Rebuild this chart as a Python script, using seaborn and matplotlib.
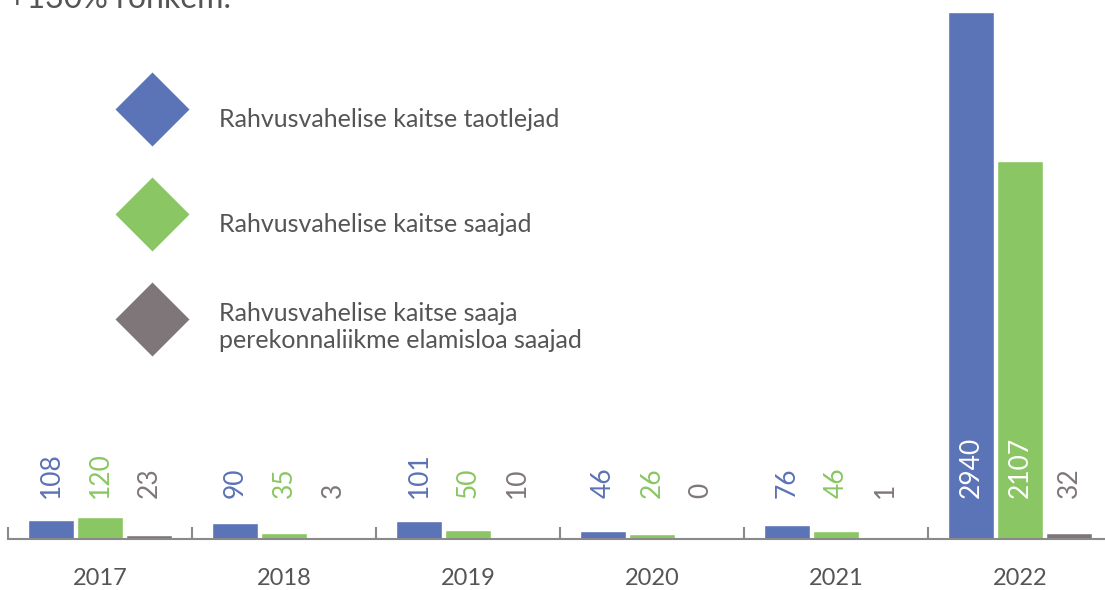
import numpy as np
import pandas as pd
import matplotlib.pyplot as plt
from matplotlib.lines import Line2D
import seaborn as sns

sns.set_style("white")
plt.rcParams['font.family'] = ['Lato', 'DejaVu Sans']

# ---- data ----
years = ["2017", "2018", "2019", "2020", "2021", "2022"]
taotlejad = [108, 90, 101, 46, 76, 2940]
saajad = [120, 35, 50, 26, 46, 2107]
pereliikmed = [23, 3, 10, 0, 1, 32]

series_names = [
    "Rahvusvahelise kaitse taotlejad",
    "Rahvusvahelise kaitse saajad",
    "Rahvusvahelise kaitse saaja\nperekonnaliikme elamisloa saajad",
]
colors = ["#5B73B7", "#8AC663", "#7F767A"]
text_col = "#555555"

df = pd.DataFrame({
    "year": years * 3,
    "value": taotlejad + saajad + pereliikmed,
    "series": [series_names[0]] * 6 + [series_names[1]] * 6 + [series_names[2]] * 6,
})

W, H = 1105, 590
fig = plt.figure(figsize=(W / 100, H / 100), dpi=100)
ax = fig.add_axes([8 / W, (H - 539) / H, 1104 / W, 527 / H])

sns.barplot(data=df, x="year", y="value", hue="series", palette=colors,
            width=0.8, gap=0.08, saturation=1, legend=False, ax=ax)

ax.set_ylim(0, 2940)
ax.set_xlim(-0.5, 5.5)
ax.set_xlabel("")
ax.set_ylabel("")
ax.set_yticks([])
for s in ["left", "right", "top"]:
    ax.spines[s].set_visible(False)
ax.spines["bottom"].set_color("#8a8a8a")
ax.spines["bottom"].set_linewidth(1.5)

# year labels without tick marks, boundary ticks pointing up
ax.tick_params(axis="x", which="major", bottom=True, length=0, pad=21,
               labelsize=17, labelcolor=text_col)
ax.set_xticks(np.arange(-0.5, 6, 1), minor=True)
ax.tick_params(axis="x", which="minor", bottom=True, direction="in",
               length=9, width=1.5, color="#8a8a8a")

# value labels
label_y = 230
for cont, col in zip(ax.containers, colors):
    for bar in cont:
        v = bar.get_height()
        xc = bar.get_x() + bar.get_width() / 2
        c = "white" if v > label_y + 400 else col
        ax.text(xc, label_y, f"{int(round(v))}", rotation=90, ha="center",
                va="bottom", fontsize=19, color=c)

# legend
handles = [Line2D([], [], linestyle="none", marker="D", markersize=38,
                  markerfacecolor=c, markeredgecolor="none") for c in colors]
fig.legend(handles, series_names, loc="upper left",
           bbox_to_anchor=(114 / W, 1 - 92 / H), frameon=False,
           fontsize=18, labelcolor=text_col, handlelength=3, handleheight=3,
           labelspacing=2.0, handletextpad=1.2, borderpad=0, borderaxespad=0)

# cut-off headline at the very top
fig.text(8 / W, 1 - 8 / H, "+130% rohkem.", fontsize=23, color=text_col,
         va="baseline", ha="left")

fig.savefig("out.png", dpi=100)
